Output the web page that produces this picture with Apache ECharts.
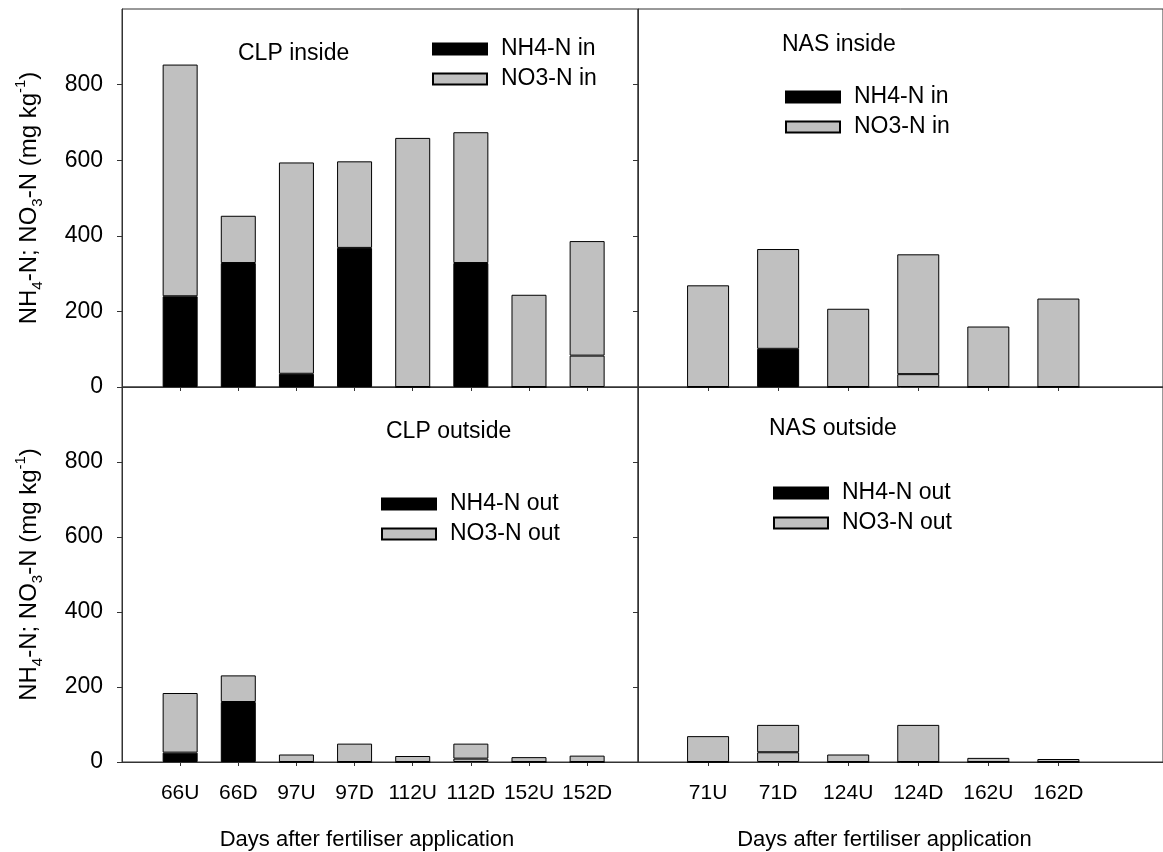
<!DOCTYPE html>
<html>
<head>
<meta charset="utf-8">
<script src="https://cdn.jsdelivr.net/npm/echarts@6/dist/echarts.min.js"></script>
<style>
  html, body { margin: 0; padding: 0; background: #fff; }
  #chart { width: 1163px; height: 852px; }
</style>
</head>
<body>
<div id="chart"></div>
<script>
// Sampling dates: days after fertiliser application (U = upslope, D = downslope)
const clpDays = ['66U', '66D', '97U', '97D', '112U', '112D', '152U', '152D'];
const nasDays = ['71U', '71D', '124U', '124D', '162U', '162D'];

// Mineral N inside the fertiliser band (mg kg-1)
const clpInNH4 = [240, 328, 35, 368, 0, 328, 0, 83];
const clpInNO3 = [613, 125, 559, 229, 659, 346, 244, 303];
const nasInNH4 = [0, 101, 0, 34, 0, 0];
const nasInNO3 = [269, 264, 207, 317, 160, 234];

// Mineral N outside the fertiliser band (mg kg-1)
const clpOutNH4 = [25, 160, 0, 0, 0, 9, 0, 0];
const clpOutNO3 = [159, 71, 20, 49, 16, 40, 13, 17];
const nasOutNH4 = [0, 26, 0, 0, 0, 0];
const nasOutNO3 = [69, 73, 20, 99, 11, 8];

// Y axis tick values
const yTicks = [0, 200, 400, 600, 800];

const FONT = "'Liberation Sans', Arial, Helvetica, sans-serif";
const GREY = '#c0c0c0';
const AXIS = '#333';

// One entry per panel; NH4 segments listed in `lightNH4` are filled with the NO3 shade
const panels = [
  { days: clpDays, nh4: clpInNH4, no3: clpInNO3, names: ['NH4-N in', 'NO3-N in'],
    title: 'CLP inside', lightNH4: ['152D'],
    grid: { left: 122, top: 9, width: 516, height: 378 }, xMax: 8.875, barWidth: 35,
    leftPanel: true, bottomRow: false,
    titlePos: { left: 238, top: 42 }, legendPos: { left: 432, top: 37 } },
  { days: nasDays, nh4: nasInNH4, no3: nasInNO3, names: ['NH4-N in', 'NO3-N in'],
    title: 'NAS inside', lightNH4: ['124D'],
    grid: { left: 638, top: 9, width: 526, height: 378 }, xMax: 7.493, barWidth: 42,
    leftPanel: false, bottomRow: false,
    titlePos: { left: 782, top: 33 }, legendPos: { left: 785, top: 85 } },
  { days: clpDays, nh4: clpOutNH4, no3: clpOutNO3, names: ['NH4-N out', 'NO3-N out'],
    title: 'CLP outside', lightNH4: ['112D'],
    grid: { left: 122, top: 387, width: 516, height: 377 }, xMax: 8.875, barWidth: 35,
    leftPanel: true, bottomRow: true,
    titlePos: { left: 386, top: 420 }, legendPos: { left: 381, top: 492 } },
  { days: nasDays, nh4: nasOutNH4, no3: nasOutNO3, names: ['NH4-N out', 'NO3-N out'],
    title: 'NAS outside', lightNH4: ['71D'],
    grid: { left: 638, top: 387, width: 526, height: 377 }, xMax: 7.493, barWidth: 42,
    leftPanel: false, bottomRow: true,
    titlePos: { left: 769, top: 417 }, legendPos: { left: 773, top: 481 } }
];

const grids = [], xAxes = [], yAxes = [], series = [], titles = [], legends = [];

panels.forEach((p, k) => {
  grids.push(Object.assign({ show: true, borderColor: AXIS, borderWidth: 1, backgroundColor: 'transparent' }, p.grid));

  const positions = p.days.map((d, i) => i + 1);
  xAxes.push({
    gridIndex: k, type: 'value', min: 0, max: p.xMax,
    axisLine: { show: true, lineStyle: { color: AXIS, width: 1 } },
    axisTick: { show: true, length: 4, customValues: positions, lineStyle: { color: AXIS } },
    axisLabel: {
      show: p.bottomRow, customValues: positions, margin: 21,
      fontSize: 21, fontFamily: FONT, color: '#000',
      formatter: v => p.days[Math.round(v) - 1] || ''
    },
    splitLine: { show: false },
    name: p.bottomRow ? 'Days after fertiliser application' : '',
    nameLocation: 'middle', nameGap: 67,
    nameTextStyle: { fontSize: 22, fontFamily: FONT, color: '#000',
      padding: k === 2 ? [0, 26, 0, 0] : [0, 32, 0, 0] }
  });

  yAxes.push({
    gridIndex: k, type: 'value', min: 0, max: 1000, interval: 200,
    axisLine: { show: true, lineStyle: { color: AXIS, width: 1 } },
    axisTick: { show: true, length: 5, customValues: yTicks, lineStyle: { color: AXIS } },
    axisLabel: { show: p.leftPanel, customValues: yTicks, margin: 19,
      fontSize: 23, fontFamily: FONT, color: '#000' },
    splitLine: { show: false },
    name: p.leftPanel ? 'NH{s|4}-N; NO{s|3}-N (mg kg{p|-1})' : '',
    nameLocation: 'middle', nameGap: 77,
    nameTextStyle: {
      fontSize: 24, fontFamily: FONT, color: '#000', lineHeight: 32,
      rich: {
        s: { fontSize: 15, lineHeight: 15, verticalAlign: 'bottom', fontFamily: FONT, color: '#000' },
        p: { fontSize: 15, lineHeight: 15, verticalAlign: 'top', fontFamily: FONT, color: '#000' }
      }
    }
  });

  // Rows are [value, position] so that the value column is the stacked one
  const stack = 'panel' + k;
  series.push({
    name: p.names[0], type: 'bar', stack, xAxisIndex: k, yAxisIndex: k,
    encode: { x: 1, y: 0 },
    barWidth: p.barWidth,
    itemStyle: { color: '#000', borderColor: '#000', borderWidth: 1 },
    emphasis: { disabled: true },
    data: p.nh4.map((v, i) => {
      const item = { value: [v, i + 1] };
      if (p.lightNH4.includes(p.days[i])) item.itemStyle = { color: GREY };
      return item;
    })
  });
  series.push({
    name: p.names[1], type: 'bar', stack, xAxisIndex: k, yAxisIndex: k,
    encode: { x: 1, y: 0 },
    barWidth: p.barWidth,
    itemStyle: { color: GREY, borderColor: '#000', borderWidth: 1 },
    emphasis: { disabled: true },
    data: p.no3.map((v, i) => ({ value: [v, i + 1] }))
  });

  titles.push({
    text: p.title, left: p.titlePos.left, top: p.titlePos.top, padding: 0,
    textStyle: { fontSize: 23, fontWeight: 'normal', fontFamily: FONT, color: '#000' }
  });

  legends.push({
    data: p.names, orient: 'vertical', left: p.legendPos.left, top: p.legendPos.top,
    padding: 0, itemWidth: 54, itemHeight: 11, itemGap: 6, icon: 'rect',
    selectedMode: false,
    textStyle: { fontSize: 23, fontFamily: FONT, color: '#000', lineHeight: 24, padding: [0, 0, 0, 9] }
  });
});

const chart = echarts.init(document.getElementById('chart'), null, { renderer: 'canvas' });
chart.setOption({
  backgroundColor: '#fff',
  animation: false,
  title: titles,
  legend: legends,
  grid: grids,
  xAxis: xAxes,
  yAxis: yAxes,
  series: series
});
</script>
</body>
</html>
